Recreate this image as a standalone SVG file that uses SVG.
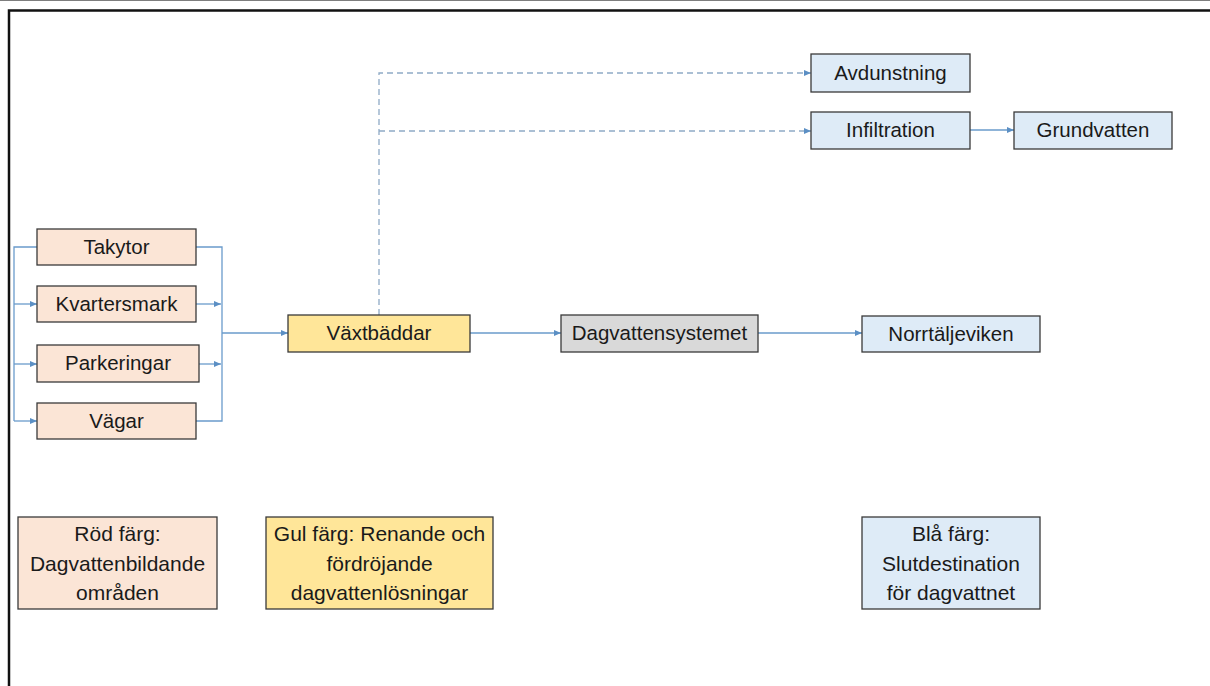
<svg xmlns="http://www.w3.org/2000/svg" width="1210" height="686" viewBox="0 0 1210 686">
<style>
text{font-family:"Liberation Sans",Arial,sans-serif;fill:#1a1a1a;text-anchor:middle}
.n{font-size:20.5px}
.l{font-size:21px}
rect{stroke:#3a3a3a;stroke-width:1.3}
.red{fill:#FBE5D6}.yel{fill:#FFE699}.gry{fill:#D9D9D9}.blu{fill:#DEEBF7}
.c{fill:none;stroke:#6A9BCB;stroke-width:1.3}
.d{fill:none;stroke:#8FAAC6;stroke-width:1.3;stroke-dasharray:6,4}
</style>
<defs>
<marker id="a" markerWidth="8" markerHeight="8" refX="7" refY="4" orient="auto" markerUnits="userSpaceOnUse"><path d="M0,1 L7,4 L0,7 Z" fill="#5B8FC4"/></marker>
</defs>
<rect x="-2" y="0" width="1215" height="700" fill="#fff" stroke="none"/>
<path d="M9,690 V10.5 H1215" fill="none" stroke="#111" stroke-width="2.5"/>
<g id="connectors">
<path class="c" d="M37,247 H14 V421"/>
<path class="c" d="M14,304 H37" marker-end="url(#a)"/>
<path class="c" d="M14,364 H37" marker-end="url(#a)"/>
<path class="c" d="M14,421 H37" marker-end="url(#a)"/>
<path class="c" d="M196,247 H222 V421 H196"/>
<path class="c" d="M196,304 H221" marker-end="url(#a)"/>
<path class="c" d="M199,364 H221" marker-end="url(#a)"/>
<path class="c" d="M222,333 H288" marker-end="url(#a)"/>
<path class="c" d="M470,333 H561" marker-end="url(#a)"/>
<path class="c" d="M758,333 H862" marker-end="url(#a)"/>
<path class="c" d="M970,130 H1014" marker-end="url(#a)"/>
<path class="d" d="M379,315 V73 H811" marker-end="url(#a)"/>
<path class="d" d="M379,131 H811" marker-end="url(#a)"/>
</g>
<g id="takytor"><rect class="red" x="37" y="229" width="159" height="36"/><text class="n" x="116.5" y="254">Takytor</text></g>
<g id="kvartersmark"><rect class="red" x="37" y="286" width="159" height="36"/><text class="n" x="116.5" y="311">Kvartersmark</text></g>
<g id="parkeringar"><rect class="red" x="37" y="345" width="162" height="37"/><text class="n" x="118" y="370">Parkeringar</text></g>
<g id="vagar"><rect class="red" x="37" y="403" width="159" height="36"/><text class="n" x="116.5" y="428">Vägar</text></g>
<g id="vaxtbaddar"><rect class="yel" x="288" y="315" width="182" height="37"/><text class="n" x="379" y="340">Växtbäddar</text></g>
<g id="dagvattensystemet"><rect class="gry" x="561" y="315" width="197" height="37"/><text class="n" x="659.5" y="340">Dagvattensystemet</text></g>
<g id="norrtaljeviken"><rect class="blu" x="862" y="316" width="178" height="36"/><text class="n" x="951" y="341">Norrtäljeviken</text></g>
<g id="avdunstning"><rect class="blu" x="811" y="54" width="159" height="38"/><text class="n" x="890.5" y="80">Avdunstning</text></g>
<g id="infiltration"><rect class="blu" x="811" y="112" width="159" height="37"/><text class="n" x="890.5" y="137">Infiltration</text></g>
<g id="grundvatten"><rect class="blu" x="1014" y="112" width="158" height="37"/><text class="n" x="1093" y="137">Grundvatten</text></g>
<g id="legend-red"><rect class="red" x="18" y="517" width="199" height="92"/><text class="l" x="117.5" y="541">Röd färg:</text><text class="l" x="117.5" y="571">Dagvattenbildande</text><text class="l" x="117.5" y="600">områden</text></g>
<g id="legend-yellow"><rect class="yel" x="266" y="517" width="227" height="92"/><text class="l" x="379.5" y="541">Gul färg: Renande och</text><text class="l" x="379.5" y="571">fördröjande</text><text class="l" x="379.5" y="600">dagvattenlösningar</text></g>
<g id="legend-blue"><rect class="blu" x="862" y="517" width="178" height="92"/><text class="l" x="951" y="541">Blå färg:</text><text class="l" x="951" y="571">Slutdestination</text><text class="l" x="951" y="600">för dagvattnet</text></g>
</svg>
